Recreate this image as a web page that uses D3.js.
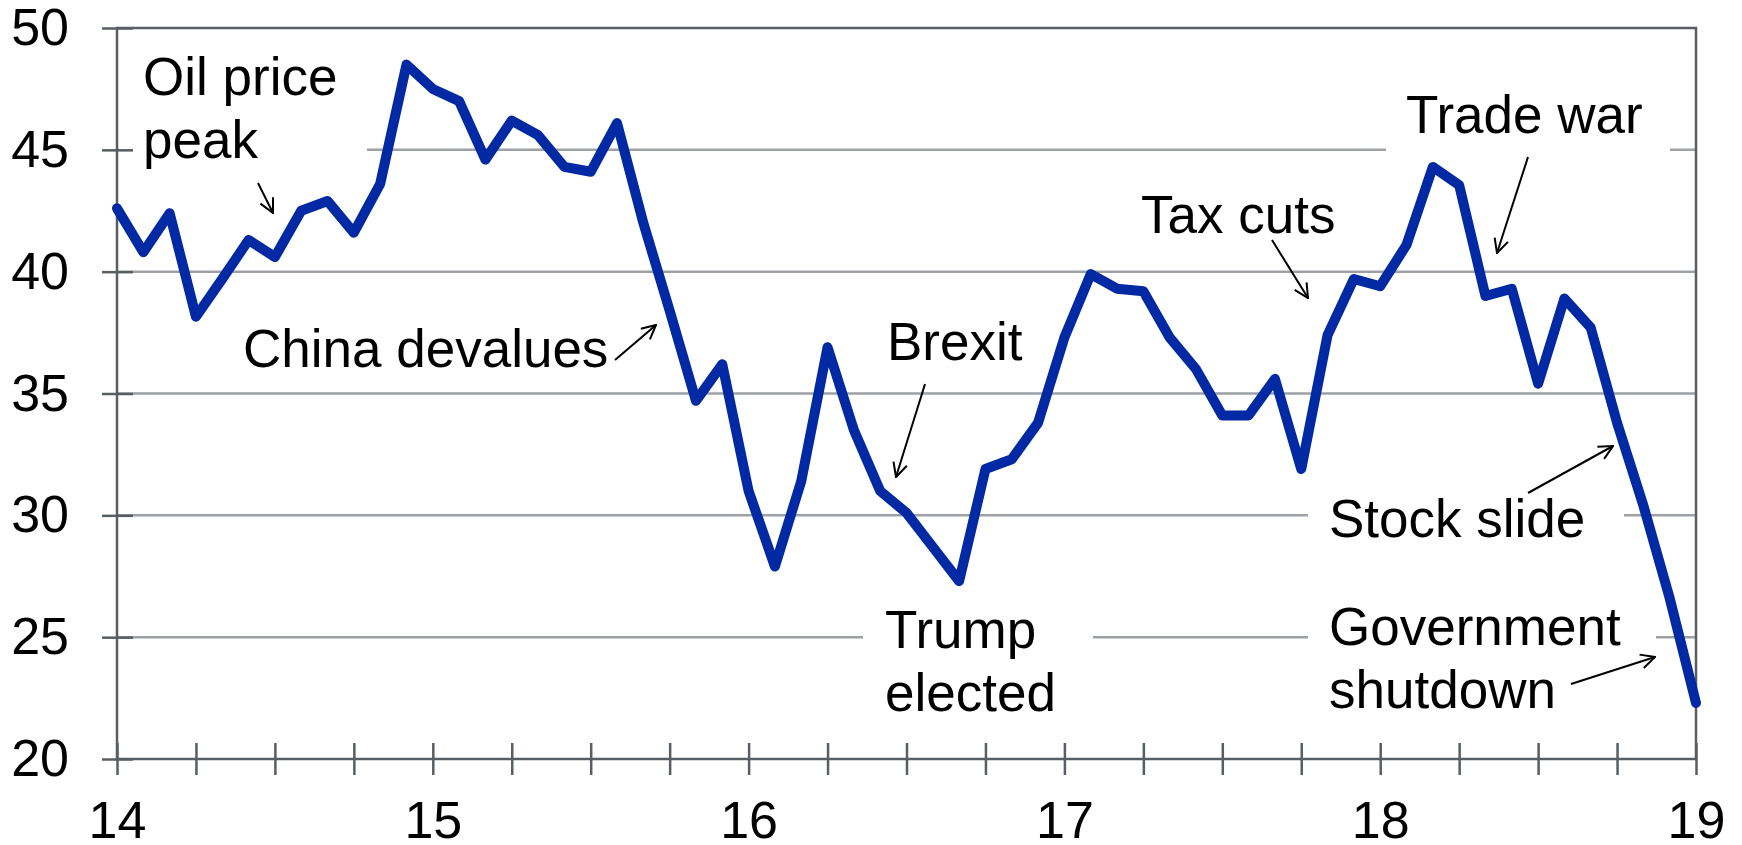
<!DOCTYPE html>
<html>
<head>
<meta charset="utf-8">
<script src="https://cdn.jsdelivr.net/npm/d3@7"></script>
<style>
    body { margin: 0; background: #fff; }
    text { font-family: "Liberation Sans", Arial, sans-serif; fill: #000; }
</style>
</head>
<body>
<svg id="chart" width="1742" height="845"></svg>
<script>
// monthly readings, Jan 2014 .. Jan 2019
let months = d3.timeMonth.range(new Date(2014, 0, 1), new Date(2019, 1, 1));
let values = [
    42.6, 40.8, 42.4, 38.15, 39.7, 41.3, 40.6, 42.5, 42.9, 41.6, 43.6, 48.5,
    47.5, 47.0, 44.6, 46.2, 45.6, 44.3, 44.1, 46.1, 42.0, 38.4, 34.7, 36.2,
    31.0, 27.9, 31.4, 36.9, 33.5, 31.0, 30.1, 28.7, 27.3, 31.9, 32.3, 33.8,
    37.3, 39.9, 39.3, 39.2, 37.3, 36.0, 34.1, 34.1, 35.6, 31.9, 37.4, 39.7,
    39.4, 41.1, 44.3, 43.55, 39.0, 39.3, 35.4, 38.9, 37.7, 33.8, 30.4, 26.6,
    22.3
];
let yTicks = [20, 25, 30, 35, 40, 45, 50];
let yearLabels = ['14', '15', '16', '17', '18', '19'];

// annotation text, position and the gap they cut into the gridlines
let notes = [
    { lines: ['Oil price', 'peak'], x: 143, y: 95, box: [119, 367], arrow: [[258, 183], [273, 213]] },
    { lines: ['China devalues'], x: 243, y: 367, box: null, arrow: [[615, 360], [656, 325]] },
    { lines: ['Brexit'], x: 887, y: 360, box: null, arrow: [[925, 384], [896, 477]] },
    { lines: ['Trump', 'elected'], x: 885, y: 648, box: [863, 1093], arrow: null },
    { lines: ['Tax cuts'], x: 1141, y: 233, box: null, arrow: [[1272, 240], [1308, 298]] },
    { lines: ['Trade war'], x: 1406, y: 133, box: [1386, 1670], arrow: [[1528, 157], [1497, 253]] },
    { lines: ['Stock slide'], x: 1329, y: 537, box: [1308, 1624], arrow: [[1528, 493], [1613, 446]] },
    { lines: ['Government', 'shutdown'], x: 1329, y: 645, box: [1308, 1656], arrow: [[1571, 684], [1655, 657]] }
];

const svg = d3.select('#chart');
const plotL = 117, plotR = 1696, plotT = 28, plotB = 759;
const gridColor = '#9da1a5', axisColor = '#595e63';

const x = d3.scalePoint().domain(months).range([plotL, plotR]);
const y = d3.scaleLinear().domain([20, 50]).range([plotB, plotT]);

// gridlines
svg.append('g')
    .selectAll('line')
    .data(yTicks.filter((d) => d > 20 && d < 50))
    .enter()
    .append('line')
    .attr('x1', plotL)
    .attr('x2', plotR)
    .attr('y1', (d) => y(d))
    .attr('y2', (d) => y(d))
    .attr('stroke', gridColor)
    .attr('stroke-width', 2.5);

// labels, with white boxes behind some of them
const boxG = svg.append('g');
const noteG = svg.append('g');
notes.forEach((n) => {
    const t = noteG.append('text').attr('font-size', 53);
    n.lines.forEach((s, k) => {
        t.append('tspan').attr('x', n.x).attr('y', n.y + k * 63).text(s);
    });
    if (n.box) {
        const bb = t.node().getBBox();
        boxG.append('rect')
            .attr('x', n.box[0])
            .attr('width', n.box[1] - n.box[0])
            .attr('y', bb.y - 4)
            .attr('height', bb.height + 14)
            .attr('fill', '#fff');
    }
});

// frame
svg.append('rect')
    .attr('x', plotL)
    .attr('y', plotT)
    .attr('width', plotR - plotL)
    .attr('height', plotB - plotT)
    .attr('fill', 'none')
    .attr('stroke', axisColor)
    .attr('stroke-width', 2.5);

// y axis
const yAxis = svg.append('g')
    .attr('transform', `translate(${plotL + 16},0)`)
    .call(d3.axisLeft(y).tickValues(yTicks).tickSize(31).tickPadding(33));
yAxis.select('.domain').remove();
yAxis.selectAll('line').attr('stroke', axisColor).attr('stroke-width', 2.5);
yAxis.selectAll('text').attr('font-size', 52).attr('fill', '#000');

// x axis: quarterly ticks, year labels
const quarters = months.filter((m) => m.getMonth() % 3 === 0);
const xAxis = svg.append('g')
    .attr('transform', `translate(0,${plotB - 16})`)
    .call(
        d3.axisBottom(x)
            .tickValues(quarters)
            .tickSize(32)
            .tickPadding(26)
            .tickFormat((m) => (m.getMonth() === 0 ? yearLabels[m.getFullYear() - 2014] : ''))
    );
xAxis.select('.domain').remove();
xAxis.selectAll('line').attr('stroke', axisColor).attr('stroke-width', 2.5);
xAxis.selectAll('text').attr('font-size', 52).attr('fill', '#000');

// series
const line = d3.line()
    .x((d, i) => x(months[i]))
    .y((d) => y(d));
svg.append('path')
    .datum(values)
    .attr('d', line)
    .attr('fill', 'none')
    .attr('stroke', '#0029a3')
    .attr('stroke-width', 10)
    .attr('stroke-linejoin', 'round')
    .attr('stroke-linecap', 'round');

// arrows
svg.append('defs')
    .append('marker')
    .attr('id', 'head')
    .attr('viewBox', '0 0 16 16')
    .attr('refX', 15)
    .attr('refY', 8)
    .attr('markerWidth', 16)
    .attr('markerHeight', 16)
    .attr('markerUnits', 'userSpaceOnUse')
    .attr('orient', 'auto')
    .append('path')
    .attr('d', 'M1,1 L15,8 L1,15')
    .attr('fill', 'none')
    .attr('stroke', '#000')
    .attr('stroke-width', 2);

svg.append('g')
    .selectAll('line')
    .data(notes.filter((n) => n.arrow))
    .enter()
    .append('line')
    .attr('x1', (n) => n.arrow[0][0])
    .attr('y1', (n) => n.arrow[0][1])
    .attr('x2', (n) => n.arrow[1][0])
    .attr('y2', (n) => n.arrow[1][1])
    .attr('stroke', '#000')
    .attr('stroke-width', 2)
    .attr('marker-end', 'url(#head)');

// labels on top
noteG.raise();
</script>
</body>
</html>
